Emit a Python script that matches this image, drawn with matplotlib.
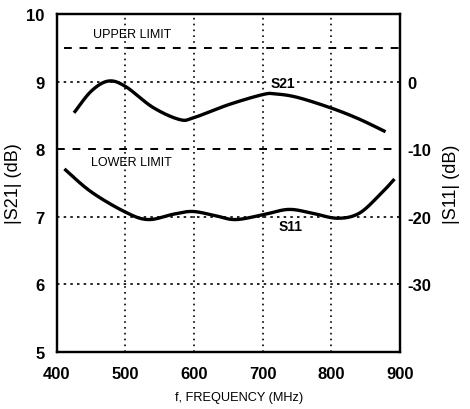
import numpy as np
import matplotlib.pyplot as plt

# values
s21_freq = [425, 450, 475, 500, 540, 579, 600, 650, 700, 718, 750, 800, 840, 879]
s21_db = [8.54, 8.86, 9.01, 8.93, 8.62, 8.44, 8.47, 8.66, 8.81, 8.82, 8.77, 8.61, 8.45, 8.26]

s11_freq = [411, 450, 500, 533, 570, 598, 630, 660, 700, 737, 770, 808, 840, 870, 892]
s11_db = [-12.9, -16.3, -19.3, -20.4, -19.6, -19.2, -19.8, -20.4, -19.7, -18.9, -19.4, -20.2, -19.5, -16.8, -14.4]

upper_limit = 9.5
lower_limit = 8.0
freq_ticks = [400, 500, 600, 700, 800, 900]
s21_ticks = [5, 6, 7, 8, 9, 10]
s11_ticks = [0, -10, -20, -30]


def smooth(x, y):
    # Catmull-Rom spline through the read-off points
    x = np.asarray(x, float)
    y = np.asarray(y, float)
    xs, ys = [], []
    for i in range(len(x) - 1):
        p0 = i - 1 if i > 0 else i
        p3 = i + 2 if i + 2 < len(x) else i + 1
        t = np.linspace(0, 1, 30, endpoint=False)
        for arr, out in ((x, xs), (y, ys)):
            a0, a1, a2, a3 = arr[p0], arr[i], arr[i + 1], arr[p3]
            out.extend(0.5 * ((2 * a1) + (-a0 + a2) * t + (2 * a0 - 5 * a1 + 4 * a2 - a3) * t ** 2
                              + (-a0 + 3 * a1 - 3 * a2 + a3) * t ** 3))
    xs.append(x[-1])
    ys.append(y[-1])
    return np.array(xs), np.array(ys)


plt.rcParams['font.family'] = ['Liberation Sans', 'DejaVu Sans']

fig = plt.figure(figsize=(4.7, 4.1), dpi=100)
ax = fig.add_axes([0.121, 0.139, 0.730, 0.824])
ax2 = ax.twinx()

ax.set_xlim(400, 900)
ax.set_ylim(5, 10)
ax2.set_ylim(-40, 10)

# grid
for f in freq_ticks[1:-1]:
    ax.axvline(f, color='black', lw=1.2, ls=(0, (1, 2.5)))
for v in [9, 7, 6]:
    ax.axhline(v, color='black', lw=1.2, ls=(0, (1.5, 2.5)))
ax.plot([410, 900], [upper_limit, upper_limit], color='black', lw=1.4, ls=(0, (4, 4)))
ax.plot([400, 900], [lower_limit, lower_limit], color='black', lw=1.4, ls=(0, (4, 4)))

x, y = smooth(s21_freq, s21_db)
ax.plot(x, y, color='black', lw=2.4, solid_capstyle='butt')
x, y = smooth(s11_freq, s11_db)
ax2.plot(x, y, color='black', lw=2.4, solid_capstyle='butt')

ax.text(509, 9.70, 'UPPER LIMIT', ha='center', va='center', fontsize=9)
ax.text(509, 7.81, 'LOWER LIMIT', ha='center', va='center', fontsize=9)
ax.text(729, 8.98, 'S21', ha='center', va='center', fontsize=10, fontweight='bold',
        bbox=dict(facecolor='white', edgecolor='none', pad=1))
ax2.text(740, -21.3, 'S11', ha='center', va='center', fontsize=10, fontweight='bold')

ax.set_xticks(freq_ticks)
ax.set_xticklabels([str(t) for t in freq_ticks], fontsize=12, fontweight='bold')
ax.set_yticks(s21_ticks)
ax.set_yticklabels([str(t) for t in s21_ticks], fontsize=12, fontweight='bold')
ax2.set_yticks(s11_ticks)
ax2.set_yticklabels([str(t) for t in s11_ticks], fontsize=12, fontweight='bold')

ax.tick_params(axis='x', length=0, pad=10)
ax.tick_params(axis='y', length=0, pad=9)
ax2.tick_params(axis='y', length=0, pad=5)

ax.set_xlabel('f, FREQUENCY (MHz)', fontsize=9.2, labelpad=8)
ax.xaxis.set_label_coords(0.53, -0.115)
ax.set_ylabel('|S21| (dB)', fontsize=13, labelpad=3)
ax2.set_ylabel('|S11| (dB)', fontsize=13, labelpad=9)

for a in (ax, ax2):
    for s in a.spines.values():
        s.set_linewidth(1.6)

fig.savefig('out.png', dpi=100)
